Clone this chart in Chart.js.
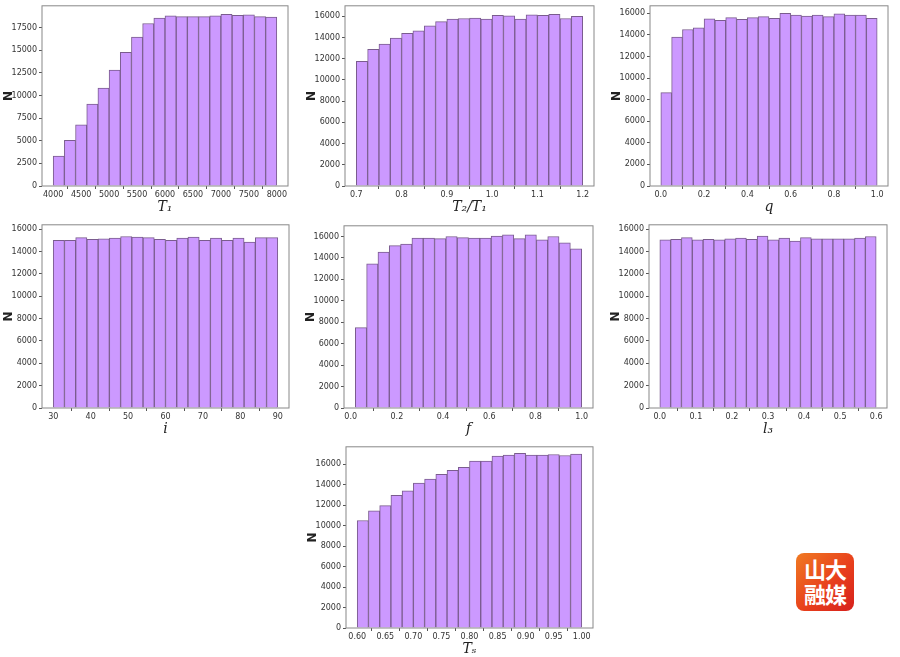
<!DOCTYPE html>
<html><head><meta charset="utf-8">
<script src="https://cdn.jsdelivr.net/npm/chart.js@4"></script>
<style>
body{margin:0;background:#fff;width:900px;height:657px;position:relative;overflow:hidden;font-family:"DejaVu Sans"}
.c{position:absolute}
#logo{position:absolute;left:796px;top:553px;width:58px;height:58px;border-radius:8px;background:linear-gradient(135deg,#f07a22 0%,#e8401c 55%,#d6201c 100%);color:#fff;font:bold 22px "Noto Sans CJK SC";line-height:25px;text-align:center;padding-top:3px;box-sizing:border-box;letter-spacing:-1px}
</style></head><body>
<div id="logo">山大<br>融媒</div>
<script>
// ---- data ----
const T1_vals=[3300,5050,6750,9050,10800,12800,14750,16450,17950,18550,18800,18700,18700,18700,18800,18950,18850,18900,18700,18650];
const T2T1_vals=[11750,12900,13400,13950,14400,14650,15100,15500,15750,15800,15850,15750,16100,16050,15750,16150,16100,16200,15800,16000];
const q_vals=[8650,13800,14500,14650,15500,15350,15600,15450,15600,15700,15550,16000,15850,15750,15850,15700,15950,15850,15850,15550];
const i_vals=[15000,15000,15250,15100,15150,15200,15350,15300,15250,15100,15000,15200,15300,15000,15200,15000,15200,14850,15250,15250];
const f_vals=[7500,13450,14550,15150,15300,15850,15850,15800,16000,15900,15850,15850,16050,16150,15800,16150,15700,16000,15400,14850];
const l3_vals=[15050,15100,15250,15050,15100,15050,15150,15200,15100,15400,15050,15200,14950,15250,15150,15150,15150,15150,15200,15350];
const Ts_vals=[10500,11450,11950,12950,13400,14150,14550,15000,15400,15700,16300,16300,16800,16900,17050,16900,16900,16950,16850,17000];
// bin ranges [start, end]
const T1_range=[4000,8000], T2T1_range=[0.7,1.2], q_range=[0,1], i_range=[30,90], f_range=[0.02,1.0], l3_range=[0,0.6], Ts_range=[0.6,1.0];
// tick labels
const T1_xticks=[4000,4500,5000,5500,6000,6500,7000,7500,8000];
const T2T1_xticks=[0.7,0.8,0.9,1.0,1.1,1.2];
const q_xticks=[0,0.2,0.4,0.6,0.8,1.0];
const i_xticks=[30,40,50,60,70,80,90];
const f_xticks=[0,0.2,0.4,0.6,0.8,1.0];
const l3_xticks=[0,0.1,0.2,0.3,0.4,0.5,0.6];
const Ts_xticks=[0.6,0.65,0.7,0.75,0.8,0.85,0.9,0.95,1.0];
const T1_yticks=[0,2500,5000,7500,10000,12500,15000,17500];
const y16=[0,2000,4000,6000,8000,10000,12000,14000,16000];

const panels=[
 {vals:T1_vals,range:T1_range,xt:T1_xticks,yt:T1_yticks,ymax:19900,title:'T₁',dec:0,box:[42,3,246,183]},
 {vals:T2T1_vals,range:T2T1_range,xt:T2T1_xticks,yt:y16,ymax:17000,title:'T₂/T₁',dec:1,box:[345,3,249,183]},
 {vals:q_vals,range:q_range,xt:q_xticks,yt:y16,ymax:16700,title:'q',dec:1,box:[650,3,238,183]},
 {vals:i_vals,range:i_range,xt:i_xticks,yt:y16,ymax:16400,title:'i',dec:0,box:[42,222,247,186]},
 {vals:f_vals,range:f_range,xt:f_xticks,yt:y16,ymax:17000,title:'f',dec:1,box:[344,223,249,185]},
 {vals:l3_vals,range:l3_range,xt:l3_xticks,yt:y16,ymax:16400,title:'l₃',dec:1,box:[649,222,238,186]},
 {vals:Ts_vals,range:Ts_range,xt:Ts_xticks,yt:y16,ymax:17700,title:'Tₛ',dec:2,box:[346,444,247,184]},
];
const frame={id:'frame',afterDraw(c){const a=c.chartArea,x=c.ctx;x.save();x.strokeStyle='#888';x.lineWidth=1;x.strokeRect(a.left,a.top,a.right-a.left,a.bottom-a.top);x.restore();}};
panels.forEach(p=>{
 const [L,T,W,H]=p.box;
 const cv=document.createElement('canvas');
 const d=document.createElement('div');d.className='c';
 d.style.left=(L-40)+'px';d.style.top=(T-4)+'px';d.style.width=(W+52)+'px';d.style.height=(H+34)+'px';
 d.appendChild(cv);document.body.appendChild(d);
 const n=p.vals.length,w=(p.range[1]-p.range[0])/n,span=p.range[1]-p.range[0];
 const pts=p.vals.map((v,k)=>({x:p.range[0]+w*(k+0.5),y:v}));
 new Chart(cv,{type:'bar',data:{datasets:[{data:pts,backgroundColor:'#cc99ff',borderColor:'#7a5c8e',borderWidth:1,barPercentage:1,categoryPercentage:1,grouped:false}]},
 options:{responsive:true,maintainAspectRatio:false,animation:false,
  layout:{padding:{top:4,right:12,left:0,bottom:0}},
  plugins:{legend:{display:false},tooltip:{enabled:false}},
  scales:{
   x:{type:'linear',offset:false,min:p.range[0]-0.05*span,max:p.range[1]+0.05*span,
      afterBuildTicks(s){s.ticks=p.xt.map(v=>({value:v}));},
      afterFit(s){s.height=30;},
      grid:{drawOnChartArea:false,tickLength:3,color:'#555'},border:{display:false},
      ticks:{font:{size:8,family:'DejaVu Sans'},color:'#333',padding:1,maxRotation:0,autoSkip:false,callback:v=>v.toFixed(p.dec)},
      title:{display:true,text:p.title,font:{size:14,family:'DejaVu Serif',style:'italic'},color:'#222',padding:{top:0,bottom:0}}},
   y:{min:0,max:p.ymax,
      afterBuildTicks(s){s.ticks=p.yt.map(v=>({value:v}));},
      afterFit(s){s.width=40;},
      grid:{drawOnChartArea:false,tickLength:3,color:'#555'},border:{display:false},
      ticks:{font:{size:8,family:'DejaVu Sans'},color:'#333',padding:2,autoSkip:false,callback:v=>String(v)},
      title:{display:true,text:'N',font:{size:12,weight:'bold',family:'DejaVu Sans'},color:'#222',padding:{top:0,bottom:1}}}
  }},plugins:[frame]});
});
</script></body></html>
